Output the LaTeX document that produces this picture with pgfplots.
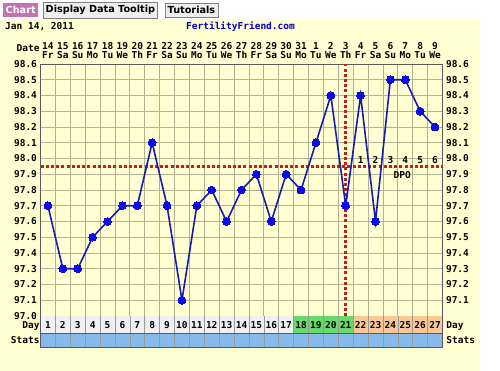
\documentclass[border=0pt]{standalone}
\usepackage{pgfplots}
\pgfplotsset{compat=1.18}
\usepackage{pgfplotstable}
\usepackage{fontspec}
\setmainfont{DejaVu Sans}
\newfontfamily\mono{DejaVu Sans Mono}
\definecolor{bgyellow}{RGB}{255,255,210}
\definecolor{gridc}{RGB}{178,178,145}
\definecolor{ptblue}{RGB}{10,10,235}
\definecolor{lnblue}{RGB}{25,25,185}
\definecolor{cov}{RGB}{195,30,30}
\definecolor{daygray}{RGB}{240,240,244}
\definecolor{daygreen}{RGB}{105,218,105}
\definecolor{daypeach}{RGB}{250,200,150}
\definecolor{statblue}{RGB}{135,185,235}
\definecolor{tabpurple}{RGB}{195,115,175}
\definecolor{tabgray}{RGB}{238,238,238}
\definecolor{ffblue}{RGB}{0,0,200}
\definecolor{frame}{RGB}{90,90,90}

\pgfplotstableread{
day temp
1 97.7
2 97.3
3 97.3
4 97.5
5 97.6
6 97.7
7 97.7
8 98.1
9 97.7
10 97.1
11 97.7
12 97.8
13 97.6
14 97.8
15 97.9
16 97.6
17 97.9
18 97.8
19 98.1
20 98.4
21 97.7
22 98.4
23 97.6
24 98.5
25 98.5
26 98.3
27 98.2
}\temps

\newcommand{\cf}{\mono\bfseries\fontsize{9.5}{9}\selectfont}
\newcommand{\tf}{\bfseries\fontsize{9.7}{10}\selectfont}

\begin{document}
\begin{tikzpicture}
\useasboundingbox (0pt,0pt) rectangle (500pt,371pt);
\fill[white] (0pt,0pt) rectangle (500pt,371pt);
\fill[bgyellow] (0pt,0pt) rectangle (480pt,352pt);
% tabs
\node[fill=tabpurple, text=white, font=\tf, inner xsep=2.5pt, minimum height=14pt, anchor=west] at (3pt,361pt) {Chart};
\node[fill=tabgray, draw=gray, font=\tf, inner xsep=2.5pt, minimum height=14pt, anchor=west] at (43pt,361pt) {Display Data Tooltip};
\node[fill=tabgray, draw=gray, font=\tf, inner xsep=2.5pt, minimum height=14pt, anchor=west] at (165pt,361pt) {Tutorials};
% title line
\node[font=\cf, anchor=west, inner sep=0pt] at (5pt,344pt) {Jan 14, 2011};
\node[font=\cf, text=ffblue, inner sep=0pt] at (240.5pt,344pt) {FertilityFriend.com};

\begin{axis}[
  at={(40.5pt,55pt)}, anchor=south west,
  scale only axis, width=402pt, height=252pt,
  xmin=0.5, xmax=27.5, ymin=97.0, ymax=98.6,
  xtick={1.5,2.5,...,26.5}, xticklabels={},
  ytick={97.0,97.1,97.2,97.3,97.4,97.5,97.6,97.7,97.8,97.9,98.0,98.1,98.2,98.3,98.4,98.5,98.6},
  xmajorgrids, ymajorgrids,
  grid style={gridc, line width=0.7pt},
  major tick length=0pt,
  /pgf/number format/assume math mode=true,
  yticklabel style={font=\cf, /pgf/number format/fixed, /pgf/number format/fixed zerofill, /pgf/number format/precision=1},
  axis line style={frame, line width=0.8pt},
  clip=false,
]
% day row and stats row
\fill[daygray] (axis cs:0.5,96.892) rectangle (axis cs:17.5,97.0);
\fill[daygreen] (axis cs:17.5,96.892) rectangle (axis cs:21.5,97.0);
\fill[daypeach] (axis cs:21.5,96.892) rectangle (axis cs:27.5,97.0);
\fill[statblue] (axis cs:0.5,96.803) rectangle (axis cs:27.5,96.892);
\pgfplotsinvokeforeach{1,...,26}{
  \draw[gray!80, line width=0.6pt] (axis cs:#1.5,96.803) -- (axis cs:#1.5,97.0);
}
\draw[frame, line width=0.6pt] (axis cs:0.5,96.892) -- (axis cs:27.5,96.892);
\draw[frame, line width=0.8pt] (axis cs:0.5,96.803) rectangle (axis cs:27.5,98.6);
\pgfplotsinvokeforeach{1,...,27}{
  \node[font=\cf, inner sep=0pt, anchor=base] at (axis cs:#1,96.9175) {#1};
}
\node[font=\cf, anchor=base east, inner sep=0pt] at (axis cs:0.45,96.9175) {Day};
\node[font=\cf, anchor=base east, inner sep=0pt] at (axis cs:0.45,96.826) {Stats};
\node[font=\cf, anchor=base west, inner sep=0pt] at (axis cs:27.75,96.9175) {Day};
\node[font=\cf, anchor=base west, inner sep=0pt] at (axis cs:27.75,96.826) {Stats};
\node[font=\cf, anchor=east, inner sep=0pt] at (axis cs:0.45,98.70) {Date};
% cover line and ovulation line
\addplot[cov, line width=2.6pt, dash pattern=on 3pt off 2.2pt] coordinates {(0.5,97.95) (27.5,97.95)};
\addplot[cov, line width=2.6pt, dash pattern=on 3pt off 2.2pt] coordinates {(21,97.0) (21,98.6)};
% temperatures
\addplot[lnblue, line width=1.6pt, mark=*, mark size=3.9pt, mark options={draw=ptblue, fill=ptblue, line width=0pt}] table[x=day, y=temp] {\temps};
% DPO labels
\pgfplotsinvokeforeach{1,...,6}{
  \node[font=\cf, inner sep=0pt, anchor=base] at (axis cs:21+#1,97.97) {#1};
}
\node[font=\cf, inner sep=0pt] at (axis cs:24.8,97.895) {DPO};
\end{axis}

\begin{axis}[
  at={(40.5pt,55pt)}, anchor=south west,
  scale only axis, width=402pt, height=252pt,
  xmin=0.5, xmax=27.5, ymin=97.0, ymax=98.6,
  axis line style={draw=none},
  xtick={1,...,27},
  xticklabel pos=top,
  xticklabels={{14\\Fr},{15\\Sa},{16\\Su},{17\\Mo},{18\\Tu},{19\\We},{20\\Th},{21\\Fr},{22\\Sa},{23\\Su},{24\\Mo},{25\\Tu},{26\\We},{27\\Th},{28\\Fr},{29\\Sa},{30\\Su},{31\\Mo},{1\\Tu},{2\\We},{3\\Th},{4\\Fr},{5\\Sa},{6\\Su},{7\\Mo},{8\\Tu},{9\\We}},
  xticklabel style={font=\cf, align=center, inner sep=1pt, yshift=4.5pt},
  ytick={97.1,97.2,97.3,97.4,97.5,97.6,97.7,97.8,97.9,98.0,98.1,98.2,98.3,98.4,98.5,98.6},
  yticklabel pos=right,
  major tick length=0pt,
  /pgf/number format/assume math mode=true,
  yticklabel style={font=\cf, /pgf/number format/fixed, /pgf/number format/fixed zerofill, /pgf/number format/precision=1},
]
\end{axis}
\end{tikzpicture}
\end{document}
